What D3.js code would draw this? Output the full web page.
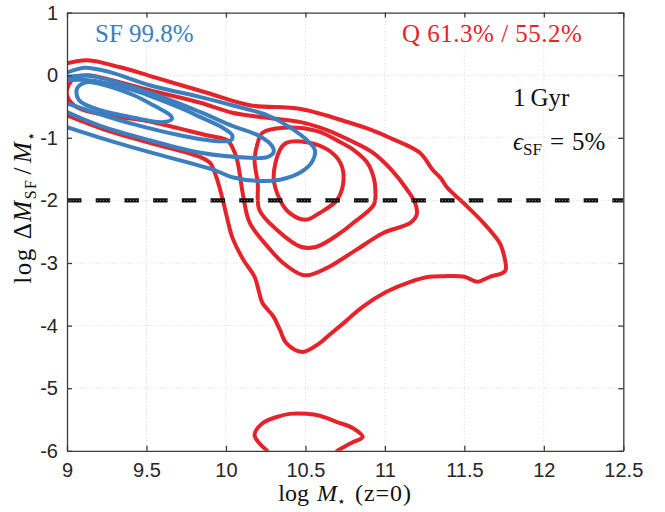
<!DOCTYPE html>
<html><head><meta charset="utf-8">
<script src="https://cdn.jsdelivr.net/npm/d3@7"></script>
<style>body{margin:0;background:#fff} svg{display:block}</style>
</head><body>
<svg id="c" width="665" height="512"></svg>
<script>
// ---------- data ----------
const xTicks = [9, 9.5, 10, 10.5, 11, 11.5, 12, 12.5];
const xTickLabels = ["9", "9.5", "10", "10.5", "11", "11.5", "12", "12.5"];
const yTicks = [1, 0, -1, -2, -3, -4, -5, -6];
const yTickLabels = ["1", "0", "-1", "-2", "-3", "-4", "-5", "-6"];
const thresholdY = -2;

// quenched (red) contours: [log M*, log dM_SF/M*]
const redLevel1 = [[9.00,0.19],[9.13,0.24],[9.33,0.13],[9.52,-0.01],[9.88,-0.28],[10.15,-0.48],[10.47,-0.54],[10.78,-0.76],[10.91,-0.87],[11.03,-1.00],[11.22,-1.24],[11.30,-1.51],[11.35,-1.64],[11.39,-1.79],[11.49,-2.03],[11.62,-2.36],[11.72,-2.67],[11.74,-2.79],[11.76,-3.11],[11.74,-3.16],[11.66,-3.22],[11.58,-3.30],[11.50,-3.22],[11.37,-3.21],[11.28,-3.22],[11.16,-3.30],[11.01,-3.46],[10.86,-3.70],[10.74,-3.96],[10.65,-4.15],[10.59,-4.28],[10.48,-4.42],[10.38,-4.28],[10.34,-4.07],[10.30,-3.86],[10.23,-3.64],[10.21,-3.48],[10.18,-3.22],[10.11,-2.95],[10.04,-2.59],[10.01,-2.31],[9.98,-1.99],[9.94,-1.63],[9.90,-1.40],[9.84,-1.31],[9.52,-1.08],[9.25,-0.88],[9.00,-0.64]];
const redLevel1Island = [[10.26,-6.00],[10.18,-5.75],[10.23,-5.56],[10.32,-5.46],[10.40,-5.41],[10.51,-5.41],[10.59,-5.44],[10.70,-5.54],[10.80,-5.64],[10.86,-5.78],[10.80,-5.86],[10.70,-6.00]];
const redLevel2 = [[9.13,0.00],[9.33,-0.11],[9.52,-0.24],[9.84,-0.44],[10.04,-0.60],[10.26,-0.68],[10.47,-0.75],[10.64,-0.88],[10.78,-1.04],[10.92,-1.23],[11.04,-1.51],[11.14,-1.83],[11.19,-2.04],[11.20,-2.23],[11.16,-2.36],[10.99,-2.52],[10.82,-2.79],[10.65,-3.06],[10.53,-3.19],[10.48,-3.19],[10.36,-3.00],[10.28,-2.79],[10.15,-2.36],[10.11,-1.95],[10.07,-1.35],[10.04,-1.15],[10.01,-1.04],[9.88,-0.96],[9.48,-0.72],[9.25,-0.64],[9.06,-0.51],[9.00,-0.32],[9.01,-0.16],[9.05,-0.04]];
const redLevel3 = [[10.18,-1.35],[10.20,-1.08],[10.23,-0.92],[10.36,-0.84],[10.57,-0.89],[10.72,-1.07],[10.80,-1.19],[10.89,-1.40],[10.93,-1.64],[10.94,-1.83],[10.93,-2.07],[10.80,-2.36],[10.72,-2.52],[10.57,-2.74],[10.47,-2.74],[10.32,-2.47],[10.21,-2.15],[10.20,-1.72]];
const redLevel4 = [[10.34,-1.19],[10.38,-1.08],[10.51,-1.07],[10.64,-1.19],[10.72,-1.40],[10.74,-1.67],[10.70,-1.99],[10.59,-2.20],[10.50,-2.31],[10.40,-2.20],[10.34,-1.99],[10.30,-1.63]];

// star-forming (blue) contours
const blueLevel1 = [[9.00,0.04],[9.11,0.12],[9.27,0.05],[9.52,-0.16],[9.84,-0.35],[10.04,-0.48],[10.26,-0.64],[10.40,-0.83],[10.51,-1.04],[10.56,-1.20],[10.54,-1.39],[10.47,-1.55],[10.34,-1.67],[10.21,-1.69],[10.04,-1.63],[9.92,-1.51],[9.52,-1.23],[9.21,-1.00],[9.00,-0.83]];
const blueLevel2 = [[9.00,-0.03],[9.14,-0.01],[9.52,-0.28],[9.84,-0.59],[10.04,-0.81],[10.21,-0.97],[10.29,-1.13],[10.30,-1.23],[10.26,-1.31],[10.15,-1.32],[9.84,-1.24],[9.52,-1.04],[9.21,-0.81],[9.00,-0.59]];
const blueLevel3 = [[9.00,-0.08],[9.14,-0.08],[9.42,-0.24],[9.52,-0.33],[9.71,-0.52],[9.84,-0.67],[9.98,-0.84],[10.04,-0.96],[10.03,-1.04],[9.93,-1.05],[9.71,-0.96],[9.40,-0.77],[9.18,-0.60],[9.00,-0.45]];
const blueLevel4 = [[9.06,-0.24],[9.08,-0.16],[9.13,-0.11],[9.21,-0.14],[9.42,-0.32],[9.55,-0.49],[9.65,-0.64],[9.66,-0.70],[9.60,-0.75],[9.42,-0.68],[9.21,-0.56],[9.08,-0.41]];

const sfLabel = "SF 99.8%";
const qLabel = "Q 61.3% / 55.2%";

// ---------- drawing ----------
const RED = "#e4232b", BLUE = "#3d7ebf", AX = "#3a3a3a";
const svg = d3.select("#c");
const x = d3.scaleLinear().domain([9, 12.5]).range([67, 623.3]);
const y = d3.scaleLinear().domain([-6, 1]).range([450.8, 12.6]);
const [x0, x1] = x.range(), [y0, y1] = y.range();

svg.append("defs").append("clipPath").attr("id", "plot")
  .append("rect").attr("x", x0).attr("y", y1).attr("width", x1 - x0).attr("height", y0 - y1);

// grid
const grid = svg.append("g").attr("stroke", "#d6d6d6").attr("stroke-width", 1).attr("stroke-dasharray", "1,2.2");
grid.selectAll(".gx").data(xTicks.slice(1, -1)).join("line")
  .attr("x1", d => x(d)).attr("x2", d => x(d)).attr("y1", y0).attr("y2", y1);
grid.selectAll(".gy").data(yTicks.slice(1, -1)).join("line")
  .attr("y1", d => y(d)).attr("y2", d => y(d)).attr("x1", x0).attr("x2", x1);

// contours
const openLine = d3.line().x(d => x(d[0])).y(d => y(d[1])).curve(d3.curveCatmullRom.alpha(0.5));
const closedLine = d3.line().x(d => x(d[0])).y(d => y(d[1])).curve(d3.curveCatmullRomClosed.alpha(0.5));
const cg = svg.append("g").attr("clip-path", "url(#plot)").attr("fill", "none")
  .attr("stroke-width", 4).attr("stroke-linejoin", "round").attr("stroke-linecap", "round");

const redSets = [[redLevel1, false], [redLevel1Island, false], [redLevel2, true], [redLevel3, true], [redLevel4, true]];
const blueSets = [[blueLevel1, false], [blueLevel2, false], [blueLevel3, false], [blueLevel4, true]];
cg.selectAll(".red").data(redSets).join("path").attr("stroke", RED)
  .attr("d", d => (d[1] ? closedLine : openLine)(d[0]));
cg.selectAll(".blue").data(blueSets).join("path").attr("stroke", BLUE)
  .attr("d", d => (d[1] ? closedLine : openLine)(d[0]));

// threshold line
svg.append("line").attr("x1", x0).attr("x2", x1).attr("y1", y(thresholdY)).attr("y2", y(thresholdY))
  .attr("stroke", "#111").attr("stroke-width", 4.2).attr("stroke-dasharray", "14.5,14.2");
svg.append("line").attr("x1", x0).attr("x2", x1).attr("y1", y(thresholdY)).attr("y2", y(thresholdY))
  .attr("stroke", "#fff").attr("stroke-opacity", 0.45).attr("stroke-width", 1).attr("stroke-dasharray", "1,2");

// axes
const fontSans = "'Liberation Sans', Arial, Helvetica, sans-serif";
function styleAxis(g) {
  g.selectAll("path.domain").attr("stroke", AX).attr("stroke-width", 1.3);
  g.selectAll(".tick line").attr("stroke", AX).attr("stroke-width", 1.3);
  g.selectAll(".tick text").attr("fill", "#262626").style("font-family", fontSans).style("font-size", "20px");
}
svg.append("g").attr("transform", `translate(0,${y0})`)
  .call(d3.axisBottom(x).tickValues(xTicks).tickFormat((d, i) => xTickLabels[i]).tickSizeInner(-5).tickSizeOuter(0).tickPadding(12))
  .call(styleAxis);
svg.append("g").attr("transform", `translate(${x0},0)`)
  .call(d3.axisLeft(y).tickValues(yTicks).tickFormat((d, i) => yTickLabels[i]).tickSizeInner(-5).tickSizeOuter(0).tickPadding(9))
  .call(styleAxis);
svg.append("g").attr("transform", `translate(0,${y1})`)
  .call(d3.axisTop(x).tickValues(xTicks).tickFormat("").tickSizeInner(-5).tickSizeOuter(0))
  .call(styleAxis);
svg.append("g").attr("transform", `translate(${x1},0)`)
  .call(d3.axisRight(y).tickValues(yTicks).tickFormat("").tickSizeInner(-5).tickSizeOuter(0))
  .call(styleAxis);
svg.selectAll(".domain").attr("fill", "none");

// labels
const serif = "'Liberation Serif', 'Times New Roman', serif";
const xl = svg.append("text").attr("x", (x0 + x1) / 2).attr("y", 501).attr("text-anchor", "middle")
  .style("font-family", serif).style("font-size", "24px").attr("fill", "#111");
xl.append("tspan").text("log");
xl.append("tspan").attr("dx", 8).style("font-style", "italic").text("M");
xl.append("tspan").attr("dy", 5).style("font-size", "14px").text("⋆");
xl.append("tspan").attr("dy", -5).attr("dx", 9).style("letter-spacing", "1px").text("(z=0)");

const yl = svg.append("text").attr("transform", `translate(31,207) rotate(-90)`).attr("text-anchor", "middle")
  .style("font-family", serif).style("font-size", "25px").attr("fill", "#111").style("letter-spacing", "1.5px");
yl.append("tspan").text("log");
yl.append("tspan").attr("dx", 8).text("Δ");
yl.append("tspan").style("font-style", "italic").text("M");
yl.append("tspan").attr("dy", 5).style("font-size", "16px").text("SF");
yl.append("tspan").attr("dy", -5).attr("dx", 4).text("/");
yl.append("tspan").attr("dx", 3).style("font-style", "italic").text("M");
yl.append("tspan").attr("dy", 5).style("font-size", "15px").text("⋆");

svg.append("text").attr("x", 95).attr("y", 42).style("font-family", serif).style("font-size", "25px")
  .attr("fill", BLUE).text(sfLabel);
svg.append("text").attr("x", 402).attr("y", 42).style("font-family", serif).style("font-size", "25px")
  .style("letter-spacing", "0.5px").attr("fill", RED).text(qLabel);
svg.append("text").attr("x", 513).attr("y", 106).style("font-family", serif).style("font-size", "25px")
  .attr("fill", "#111").text("1\u2009Gyr");
const eps = svg.append("text").attr("x", 513).attr("y", 150).style("font-family", serif).style("font-size", "25px").attr("fill", "#111");
eps.append("tspan").style("font-style", "italic").text("ϵ");
eps.append("tspan").attr("dy", 5).style("font-size", "17px").text("SF");
eps.append("tspan").attr("dy", -5).attr("dx", 8).text("=");
eps.append("tspan").attr("dx", 8).text("5%");
</script>
</body></html>
